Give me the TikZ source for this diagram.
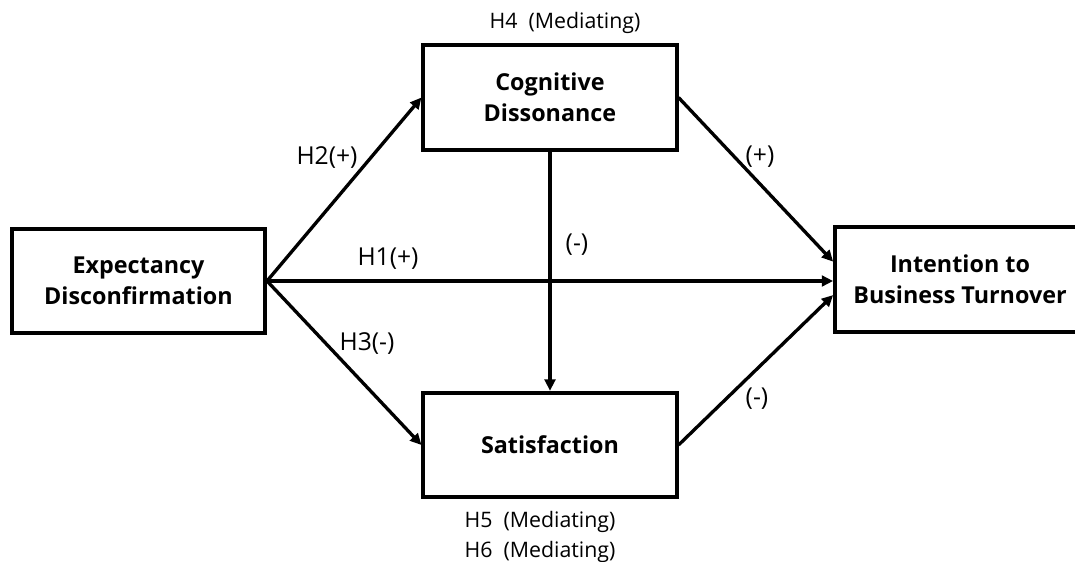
\documentclass[tikz,border=0pt]{standalone}
\usepackage{fontspec}
\setmainfont{Open Sans}
\usetikzlibrary{arrows.meta}

\begin{document}
\begin{tikzpicture}[
    x=0.75pt, y=-0.75pt,
    box/.style={draw=black, line width=2.8pt, fill=white, align=center, inner sep=0pt,
        minimum width=190pt, minimum height=78.5pt, font=\fontsize{17.5}{23}\selectfont\bfseries},
    link/.style={line width=2.5pt, -{Triangle[length=8.5pt, width=8pt]}},
    hyp/.style={font=\fontsize{18.5}{22}\selectfont, anchor=base},
    med/.style={font=\fontsize{16}{20}\selectfont, anchor=base}
]

    % Rahmen des Bildes
    \useasboundingbox (0,0) rectangle (1075,561);
    \clip (0,0) rectangle (1075,561);

    % Konstrukte
    \node[box] (ED) at (138.5, 281)  {Expectancy\\Disconfirmation};
    \node[box] (CD) at (550, 97.5)   {Cognitive\\Dissonance};
    \node[box] (SA) at (550, 445)    {Satisfaction};
    \node[box, minimum width=187.5pt] (IT) at (960, 279.5) {Intention to\\Business Turnover};

    % Pfade
    \draw[link] (ED.east) -- (CD.west);
    \draw[link] (ED.east) -- (ED.east -| IT.west);
    \draw[link] (ED.east) -- (SA.west);
    \draw[link] (CD.south) -- (SA.north);
    \draw[link] (CD.east) -- (IT.172.5);
    \draw[link] (SA.east) -- (IT.187);

    % Hypothesen
    \node[hyp] (h2) at (327, 164) {H2(+)};
    \node[hyp] (h1) at (388, 265) {H1(+)};
    \node[hyp] (h3) at (367, 350) {H3(-)};
    \node[hyp] (cs) at (577, 251) {(-)};
    \node[hyp] (ci) at (760, 163) {(+)};
    \node[hyp] (si) at (757, 405) {(-)};

    % Mediation
    \node[med] (h4) at (565, 28)  {H4~ (Mediating)};
    \node[med] (h5) at (540, 527) {H5~ (Mediating)};
    \node[med] (h6) at (540, 557) {H6~ (Mediating)};

\end{tikzpicture}
\end{document}
